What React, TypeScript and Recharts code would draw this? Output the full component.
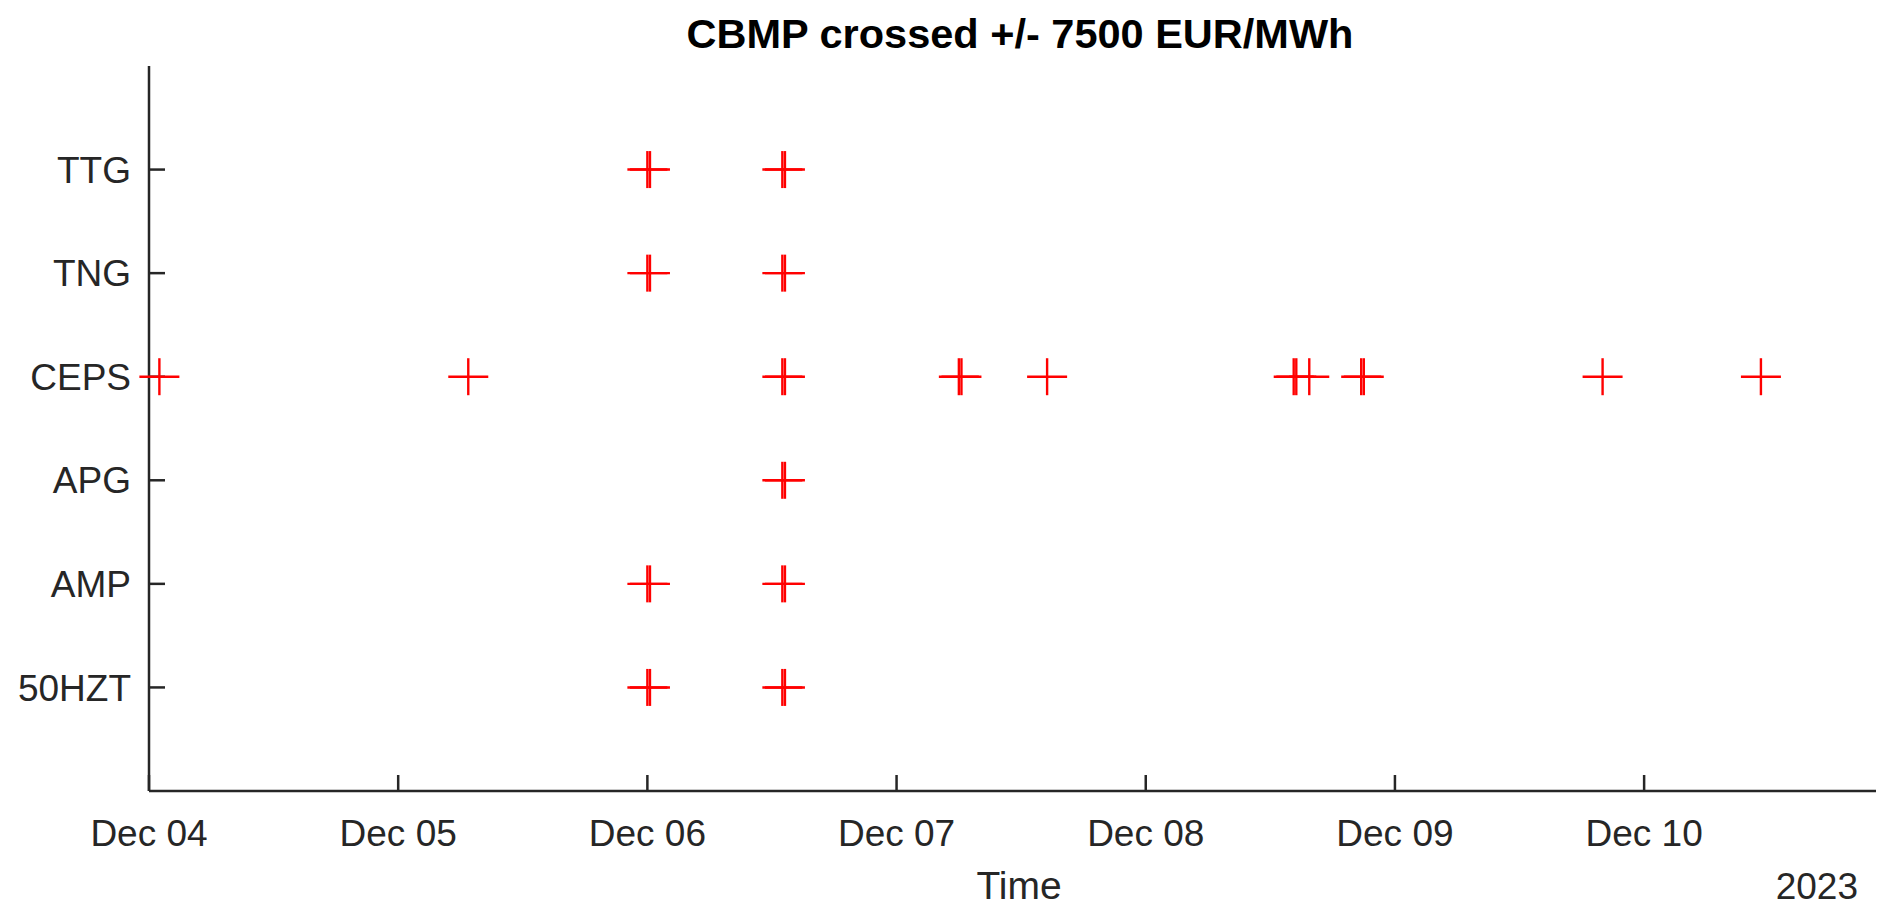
import { ScatterChart, Scatter, XAxis, YAxis } from "recharts";

// TSOs on the y axis, bottom to top
const tsoNames = ["50HZT", "AMP", "APG", "CEPS", "TNG", "TTG"];

// timestamps (UTC) where the CBMP crossed +/- 7500 EUR/MWh
const hz50Times = ["2023-12-06T00:00", "2023-12-06T00:15", "2023-12-06T13:00", "2023-12-06T13:15"];
const ampTimes = ["2023-12-06T00:00", "2023-12-06T00:15", "2023-12-06T13:00", "2023-12-06T13:15"];
const apgTimes = ["2023-12-06T13:00", "2023-12-06T13:15"];
const cepsTimes = [
  "2023-12-04T01:00",
  "2023-12-05T06:45",
  "2023-12-06T13:00",
  "2023-12-06T13:15",
  "2023-12-07T06:00",
  "2023-12-07T06:15",
  "2023-12-07T14:30",
  "2023-12-08T14:15",
  "2023-12-08T14:30",
  "2023-12-08T15:45",
  "2023-12-08T20:45",
  "2023-12-08T21:00",
  "2023-12-09T20:00",
  "2023-12-10T11:15",
];
const tngTimes = ["2023-12-06T00:00", "2023-12-06T00:15", "2023-12-06T13:00", "2023-12-06T13:15"];
const ttgTimes = ["2023-12-06T00:00", "2023-12-06T00:15", "2023-12-06T13:00", "2023-12-06T13:15"];

const tickDays = ["2023-12-04", "2023-12-05", "2023-12-06", "2023-12-07", "2023-12-08", "2023-12-09", "2023-12-10"];
const xStart = "2023-12-04T00:00";
const xEnd = "2023-12-10T22:20";

const toMs = (s: string) => Date.parse(s + (s.length > 10 ? ":00Z" : "T00:00:00Z"));

const seriesTimes = [hz50Times, ampTimes, apgTimes, cepsTimes, tngTimes, ttgTimes];
const series = seriesTimes.map((times, i) => ({
  name: tsoNames[i],
  data: times.map((t) => ({ t: toMs(t), y: i + 1 })),
}));

const MONTHS = ["Jan", "Feb", "Mar", "Apr", "May", "Jun", "Jul", "Aug", "Sep", "Oct", "Nov", "Dec"];
function formatDay(ms: number): string {
  const d = new Date(ms);
  return `${MONTHS[d.getUTCMonth()]} ${String(d.getUTCDate()).padStart(2, "0")}`;
}

const RED = "#ff0000";
const INK = "#262626";
const FONT = "'Liberation Sans', Arial, Helvetica, sans-serif";

function PlusMarker(props: any) {
  const { cx, cy } = props;
  if (cx == null || cy == null) return null;
  return (
    <g>
      <line x1={cx - 20} x2={cx + 20} y1={cy} y2={cy} stroke={RED} strokeWidth={2.4} />
      <line x1={cx} x2={cx} y1={cy - 18.5} y2={cy + 18.5} stroke={RED} strokeWidth={2.4} />
    </g>
  );
}

export default function App() {
  return (
    <div
      style={{
        position: "fixed",
        left: 0,
        top: 0,
        width: 1880,
        height: 909,
        background: "#fff",
        fontFamily: FONT,
      }}
    >
      <ScatterChart
        width={1880}
        height={909}
        margin={{ top: 66, right: 4, bottom: 0, left: 0 }}
        style={{ fontFamily: FONT }}
      >
        <XAxis
          type="number"
          dataKey="t"
          domain={[toMs(xStart), toMs(xEnd)]}
          ticks={tickDays.map(toMs)}
          tickFormatter={formatDay}
          interval={0}
          height={118}
          stroke={INK}
          strokeWidth={2.5}
          tickSize={-16}
          tickMargin={45}
          tick={{ fill: INK, fontSize: 37, fontFamily: FONT }}
          tickLine={{ stroke: INK, strokeWidth: 2.5 }}
        />
        <YAxis
          type="number"
          dataKey="y"
          domain={[0, 7]}
          ticks={[1, 2, 3, 4, 5, 6]}
          tickFormatter={(v: number) => tsoNames[v - 1] ?? ""}
          interval={0}
          width={149}
          stroke={INK}
          strokeWidth={2.5}
          tickSize={-16}
          tickMargin={34}
          tick={{ fill: INK, fontSize: 37, fontFamily: FONT }}
          tickLine={{ stroke: INK, strokeWidth: 2.5 }}
        />
        {series.map((s) => (
          <Scatter
            key={s.name}
            name={s.name}
            data={s.data}
            fill={RED}
            shape={<PlusMarker />}
            isAnimationActive={false}
          />
        ))}
      </ScatterChart>
      <svg
        width={1880}
        height={909}
        style={{ position: "absolute", left: 0, top: 0, pointerEvents: "none" }}
      >
        <text x={1020} y={48} textAnchor="middle" fontSize={41.5} fontWeight="bold" fill="#000" fontFamily={FONT}>
          CBMP crossed +/- 7500 EUR/MWh
        </text>
        <text x={1019} y={899} textAnchor="middle" fontSize={39} fill={INK} fontFamily={FONT}>
          Time
        </text>
        <text x={1858} y={899} textAnchor="end" fontSize={37} fill={INK} fontFamily={FONT}>
          2023
        </text>
      </svg>
    </div>
  );
}
